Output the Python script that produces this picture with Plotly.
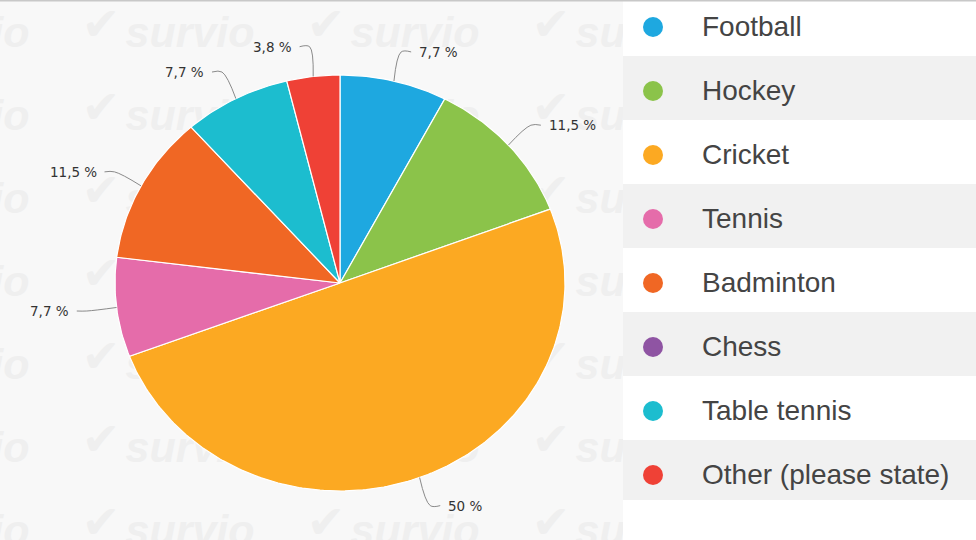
import numpy as np
import plotly.graph_objects as go

# --- Dados ---
categorias = ["Football", "Hockey", "Cricket", "Tennis", "Badminton",
              "Chess", "Table tennis", "Other (please state)"]
percentagens = [7.7, 11.5, 50, 7.7, 11.5, 0, 7.7, 3.8]
cores = ["#1ea8e0", "#8bc34a", "#fca922", "#e56caa", "#f06724",
         "#8f54a3", "#1cbdcf", "#ef4136"]

# --- Geometria (pixels) ---
W, H = 976, 540
CX, CY, RX, RY = 340, 283, 225, 208
LEG_X0 = 623

fig = go.Figure()

# marca d'água "survio" por trás da tarte
wm_x, wm_y, ck_x, ck_y = [], [], [], []
for j in range(7):
    for k in range(-1, 3):
        wm_x.append(190 + 225 * k)
        wm_y.append(36 + 83 * j)
        ck_x.append(101 + 225 * k)
        ck_y.append(28 + 83 * j)
fig.add_trace(go.Scatter(
    x=wm_x, y=wm_y, mode="text", text=["survio"] * len(wm_x),
    textfont=dict(family="Liberation Sans", size=43, color="#efefef",
                  weight="bold", style="italic"),
    hoverinfo="skip", showlegend=False))
fig.add_trace(go.Scatter(
    x=ck_x, y=ck_y, mode="text", text=["✔"] * len(ck_x),
    textfont=dict(family="DejaVu Sans", size=46, color="#efefef"),
    hoverinfo="skip", showlegend=False))

# fatias
total = sum(percentagens)
acum = 0.0
etiquetas = []
for nome, v, cor in zip(categorias, percentagens, cores):
    if v <= 0:
        continue
    a0 = acum / total * 2 * np.pi
    a1 = (acum + v) / total * 2 * np.pi
    acum += v
    t = np.linspace(a0, a1, max(int(v * 4), 8))
    xs = np.concatenate([[CX], CX + RX * np.sin(t), [CX]])
    ys = np.concatenate([[CY], CY - RY * np.cos(t), [CY]])
    fig.add_trace(go.Scatter(
        x=xs, y=ys, mode="lines", fill="toself", fillcolor=cor,
        line=dict(color="white", width=1.2), name=nome,
        hoverinfo="name", showlegend=False))
    etiquetas.append((v, (a0 + a1) / 2))

# etiquetas com linhas de ligação
for v, m in etiquetas:
    ex, ey = CX + RX * np.sin(m), CY - RY * np.cos(m)
    ox, oy = CX + (RX + 30) * np.sin(m), CY - (RY + 30) * np.cos(m)
    lado = 1 if np.sin(m) >= 0 else -1
    fig.add_trace(go.Scatter(
        x=[ex, ox, ox + lado * 10], y=[ey, oy, oy], mode="lines",
        line=dict(color="#8a8a8a", width=1, shape="spline"),
        hoverinfo="skip", showlegend=False))
    txt = (f"{v:g}" if float(v).is_integer() else f"{v:.1f}").replace(".", ",") + " %"
    fig.add_annotation(
        x=ox + lado * 16, y=oy, text=txt, showarrow=False,
        xanchor="left" if lado > 0 else "right", yanchor="middle",
        font=dict(family="DejaVu Sans", size=13.5, color="#333333"))

# --- Legenda em tabela ---
shapes = [dict(type="rect", xref="x", yref="y", x0=LEG_X0, x1=W, y0=0, y1=H,
               fillcolor="white", line_width=0, layer="above")]
for i, (nome, cor) in enumerate(zip(categorias, cores)):
    yc = 27 + 64 * i
    topo = max(yc - 35, 0)
    base = yc + 29 if i < len(categorias) - 1 else 500
    shapes.append(dict(type="rect", xref="x", yref="y", x0=LEG_X0, x1=W,
                       y0=topo, y1=base, layer="above", line_width=0,
                       fillcolor="#f1f1f1" if i % 2 else "#ffffff"))
    shapes.append(dict(type="circle", xref="x", yref="y", x0=643, x1=663,
                       y0=yc - 10, y1=yc + 10, layer="above", line_width=0,
                       fillcolor=cor))
    fig.add_annotation(
        x=700, y=yc - 1, text=nome, showarrow=False, xanchor="left",
        yanchor="middle", font=dict(family="Liberation Sans", size=28, color="#444444"))

shapes.append(dict(type="line", xref="x", yref="y", x0=0, x1=W, y0=0.5, y1=0.5,
                   line=dict(color="#c8c8c8", width=2), layer="above"))

fig.update_layout(
    width=W, height=H,
    margin=dict(l=0, r=0, t=0, b=0),
    paper_bgcolor="white", plot_bgcolor="#f8f8f8",
    xaxis=dict(range=[0, W], visible=False, fixedrange=True),
    yaxis=dict(range=[H, 0], visible=False, fixedrange=True),
    shapes=shapes, showlegend=False,
)

fig.write_html("out.html", config={"displayModeBar": False},
               post_script="document.body.style.margin='0';")
